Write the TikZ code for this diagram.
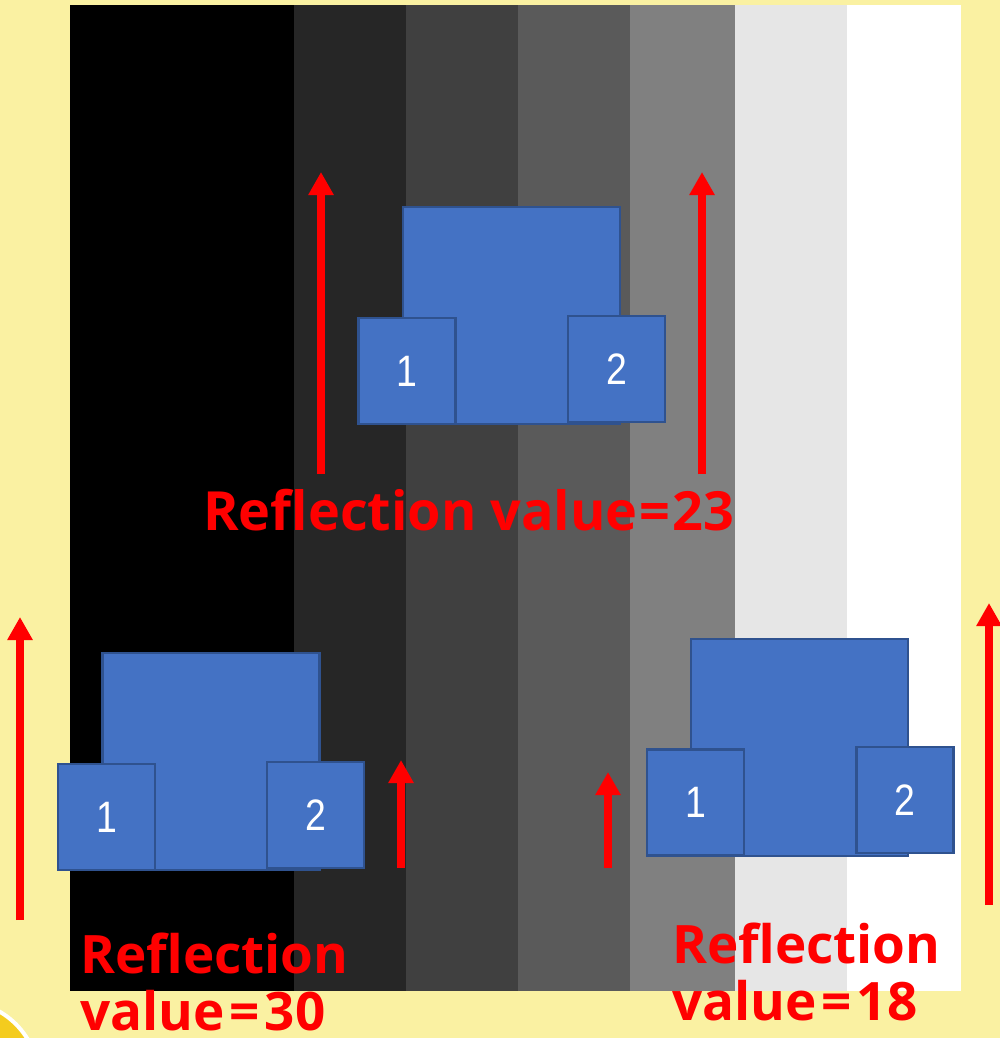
\documentclass[tikz,border=0pt]{standalone}
\usepackage{fontspec}
\setmainfont{Liberation Sans}
\newfontfamily\capfont{Open Sans}
\newfontfamily\digitfont{Liberation Sans}
\usetikzlibrary{arrows.meta}

\definecolor{paper}{HTML}{FAF1A2}
\definecolor{sun}{HTML}{F4CC1E}
\definecolor{robotblue}{HTML}{4472C4}
\definecolor{robotedge}{HTML}{2F528F}
\definecolor{gA}{HTML}{000000}
\definecolor{gB}{HTML}{262626}
\definecolor{gC}{HTML}{404040}
\definecolor{gD}{HTML}{5A5A5A}
\definecolor{gE}{HTML}{808080}
\definecolor{gF}{HTML}{E6E6E6}
\definecolor{gG}{HTML}{FFFFFF}

% a wider equals sign for the readings
\newcommand{\wideeq}{\kern5pt=\kern5pt}

\tikzset{
  bodybox/.style={rectangle, fill=robotblue, draw=robotedge, line width=2.5pt,
    minimum width=217pt, minimum height=217pt, inner sep=0pt},
  wheelbox/.style={rectangle, fill=robotblue, draw=robotedge, line width=2.5pt,
    minimum width=97pt, minimum height=106pt, inner sep=0pt, text=white,
    font=\digitfont\fontsize{44}{44}\selectfont},
  uparrow/.style={draw=red, line width=8.5pt, -{Triangle[width=24pt,length=23pt]}},
  valuetext/.style={text=red, font=\capfont\bfseries\fontsize{53}{57}\selectfont,
    inner sep=0pt, anchor=base west, align=left}
}

\begin{document}
\begin{tikzpicture}[x=1pt,y=-1pt]
  \useasboundingbox (0,0) rectangle (1000,1038);
  \fill[paper] (0,0) rectangle (1000,1038);

  % corner of a round shape in the lower left
  \begin{scope}
    \clip (0,0) rectangle (1000,1038);
    \filldraw[fill=sun, draw=white, line width=4pt] (-40,1080) circle (79);
  \end{scope}

  % grey-scale test strip
  \fill[gA] (70,5) rectangle (294,991);
  \fill[gB] (294,5) rectangle (406,991);
  \fill[gC] (406,5) rectangle (518,991);
  \fill[gD] (518,5) rectangle (630,991);
  \fill[gE] (630,5) rectangle (735,991);
  \fill[gF] (735,5) rectangle (847,991);
  \fill[gG] (847,5) rectangle (961,991);

  % robot on top
  \node[bodybox] (bodyT) at (511.5,315.5) {};
  \node[wheelbox] (wT1) at (407,371) {\scalebox{0.85}[1]{1}};
  \node[wheelbox] (wT2) at (616.5,369) {\scalebox{0.85}[1]{2}};

  % robot lower left
  \node[bodybox] (bodyL) at (211,761.5) {};
  \node[wheelbox] (wL1) at (106.5,817) {\scalebox{0.85}[1]{1}};
  \node[wheelbox] (wL2) at (315.5,815) {\scalebox{0.85}[1]{2}};

  % robot lower right
  \node[bodybox] (bodyR) at (799.5,747.5) {};
  \node[wheelbox] (wR1) at (695.5,802.5) {\scalebox{0.85}[1]{1}};
  \node[wheelbox] (wR2) at (905,800) {\scalebox{0.85}[1]{2}};

  % direction arrows
  \coordinate (aTLs) at (321,474);  \coordinate (aTLe) at (321,172);
  \coordinate (aTRs) at (702,474);  \coordinate (aTRe) at (702,172);
  \coordinate (aLs)  at (20,920);   \coordinate (aLe)  at (20,617);
  \coordinate (aRs)  at (989,905);  \coordinate (aRe)  at (989,603);
  \coordinate (aMLs) at (401,868);  \coordinate (aMLe) at (401,760);
  \coordinate (aMRs) at (608,868);  \coordinate (aMRe) at (608,772);
  \draw[uparrow] (aTLs) -- (aTLe);
  \draw[uparrow] (aTRs) -- (aTRe);
  \draw[uparrow] (aLs) -- (aLe);
  \draw[uparrow] (aRs) -- (aRe);
  \draw[uparrow] (aMLs) -- (aMLe);
  \draw[uparrow] (aMRs) -- (aMRe);

  % reflection readings (base anchor sits on the last line)
  \node[valuetext, font=\capfont\bfseries\fontsize{54}{57}\selectfont] (vT) at (203,530) {Reflection value\kern2pt=\kern2pt23};
  \node[valuetext] (vL) at (80,1030) {Reflection\\value\wideeq30};
  \node[valuetext] (vR) at (672,1020) {Reflection\\value\wideeq18};
\end{tikzpicture}
\end{document}
